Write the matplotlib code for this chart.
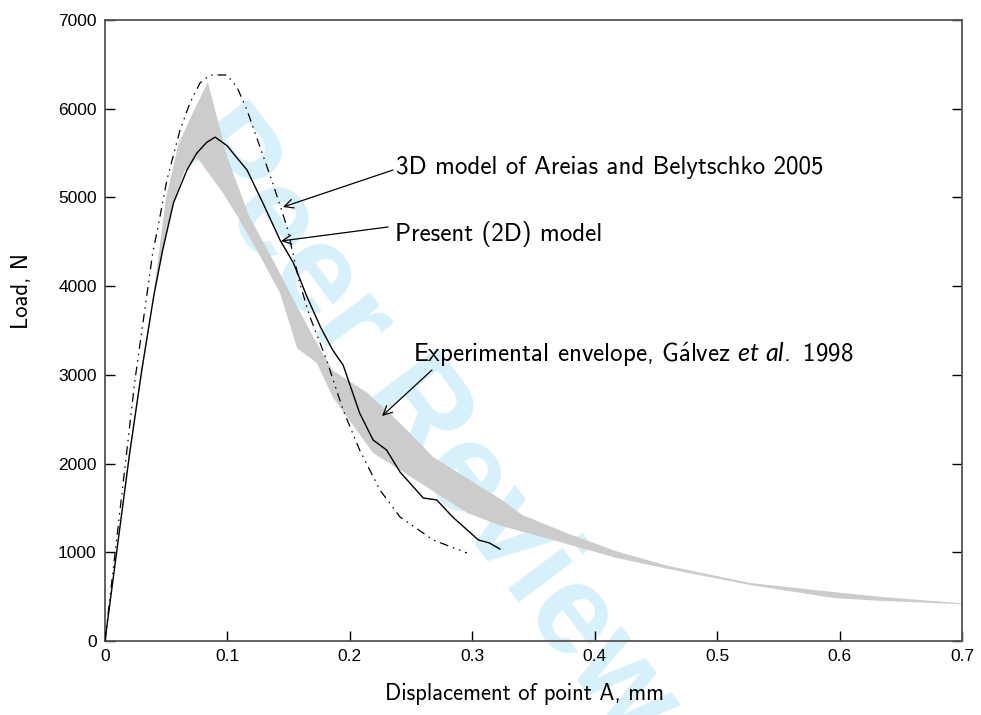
import matplotlib
matplotlib.use("Agg")
import matplotlib.pyplot as plt
import numpy as np

# experimental envelope (Galvez et al. 1998), upper and lower bounds
env_up_x = [0.0, 0.02, 0.04, 0.05, 0.06, 0.07, 0.084, 0.100, 0.118, 0.137, 0.154,
            0.170, 0.186, 0.214, 0.241, 0.268, 0.323, 0.341, 0.377, 0.418, 0.459,
            0.527, 0.595, 0.635, 0.700]
env_up_y = [0, 2150, 3950, 5000, 5600, 5900, 6300, 5450, 4780, 4300, 3850,
            3430, 3050, 2800, 2457, 2074, 1600, 1420, 1217, 1010, 850,
            654, 552, 496, 425]
env_lo_x = [0.0, 0.02, 0.04, 0.055, 0.065, 0.075, 0.0964, 0.110, 0.124, 0.143,
            0.157, 0.173, 0.186, 0.219, 0.241, 0.296, 0.323, 0.363, 0.418, 0.459,
            0.527, 0.595, 0.635, 0.700]
env_lo_y = [0, 2080, 3880, 4900, 5300, 5456, 5050, 4746, 4408, 3923,
            3300, 3134, 2750, 2119, 1928, 1443, 1300, 1150, 935, 815,
            631, 485, 451, 415]

# present (2D) model
model2d_x = [0.0, 0.01, 0.02, 0.03, 0.04, 0.047, 0.056, 0.067, 0.075, 0.083, 0.090,
             0.1000, 0.1046, 0.116, 0.129, 0.143, 0.154, 0.165, 0.176, 0.186, 0.1945,
             0.208, 0.219, 0.230, 0.241, 0.260, 0.271, 0.284, 0.305, 0.314, 0.3226]
model2d_y = [0, 1050, 2100, 3050, 3900, 4400, 4940, 5310, 5500, 5620, 5680,
             5580, 5500, 5310, 4937, 4520, 4260, 3880, 3540, 3280, 3111,
             2570, 2266, 2153, 1905, 1612, 1590, 1398, 1139, 1105, 1037]

# 3D model of Areias and Belytschko 2005
model3d_x = [0.0, 0.0245, 0.039, 0.0433, 0.0506, 0.0613, 0.0694, 0.0776, 0.0858,
             0.0996, 0.1078, 0.116, 0.1266, 0.137, 0.1487, 0.159, 0.1675, 0.181,
             0.1945, 0.208, 0.2246, 0.241, 0.268, 0.2957]
model3d_y = [0, 2942, 4374, 4667, 5197, 5760, 6065, 6290, 6380,
             6380, 6245, 5986, 5570, 5163, 4667, 4036, 3652, 3168,
             2604, 2153, 1702, 1398, 1139, 992]

xticks = [0, 0.1, 0.2, 0.3, 0.4, 0.5, 0.6, 0.7]
xticklabels = ["0", "0.1", "0.2", "0.3", "0.4", "0.5", "0.6", "0.7"]
yticks = [0, 1000, 2000, 3000, 4000, 5000, 6000, 7000]

plt.rcParams["axes.unicode_minus"] = False
plt.rcParams["mathtext.fontset"] = "custom"
plt.rcParams["mathtext.rm"] = "cmss10"
plt.rcParams["mathtext.it"] = "Lato:italic"
cm = ["cmss10", "DejaVu Sans"]
fs = 18
fs_lab = 16.3

fig = plt.figure(figsize=(9.81, 7.15), dpi=100)
ax = fig.add_axes([0.107, 0.1035, 0.8736, 0.8685])

# watermark behind the data
ax.text(0.434, 0.406, "Peer Review", rotation=-53, fontsize=92,
        fontweight="bold", family="Liberation Sans", color="#d6f0fc",
        ha="center", va="center", transform=fig.transFigure,
        clip_on=False, zorder=0.5, rotation_mode="anchor")

# envelope polygon
px = np.concatenate([env_up_x, env_lo_x[::-1]])
py = np.concatenate([env_up_y, env_lo_y[::-1]])
ax.fill(px, py, color="#cccccc", lw=0, zorder=1)

ax.plot(model3d_x, model3d_y, color="black", lw=0.9,
        dashes=(7, 4, 1.2, 4, 1.2, 4), zorder=3)
ax.plot(model2d_x, model2d_y, color="black", lw=1.0, zorder=4)

arrow = dict(arrowstyle="->", lw=0.9, color="black", shrinkA=0, shrinkB=0,
             mutation_scale=16)
ax.annotate("", xy=(0.1454, 4892), xytext=(0.2352, 5309), arrowprops=arrow)
ax.annotate("", xy=(0.1438, 4509), xytext=(0.2312, 4667), arrowprops=arrow)
ax.annotate("", xy=(0.2263, 2536), xytext=(0.2671, 3055), arrowprops=arrow)

ax.text(0.2377, 5343, "3D model of Areias and Belytschko 2005", family=cm,
        fontsize=fs, va="center", ha="left", zorder=5)
ax.text(0.2369, 4588, "Present (2D) model", family=cm,
        fontsize=fs, va="center", ha="left", zorder=5)
ax.text(0.2516, 3224,
        "Experimental envelope, G$\\acute{\\mathrm{a}}$lvez $\\mathit{et\\ al.}$ 1998",
        family=cm, fontsize=fs, va="center", ha="left", zorder=5)

ax.set_xlim(0, 0.7)
ax.set_ylim(0, 7000)
ax.set_xticks(xticks)
ax.set_xticklabels(xticklabels)
ax.set_yticks(yticks)
ax.tick_params(direction="in", length=7, width=1.0, right=True, top=False,
               labelsize=12.5, pad=6)
for lab in ax.get_xticklabels() + ax.get_yticklabels():
    lab.set_family("Liberation Sans")
for sp in ax.spines.values():
    sp.set_color("#555555")
    sp.set_linewidth(1.3)

ax.set_xlabel("Displacement of point A, mm", family=cm, fontsize=fs_lab, va="center")
ax.set_ylabel("Load, N", family=cm, fontsize=fs_lab, va="center")
ax.xaxis.set_label_coords(0.490, -0.0853)
ax.yaxis.set_label_coords(-0.0968, 0.5636)

fig.savefig("out.png", dpi=100)
